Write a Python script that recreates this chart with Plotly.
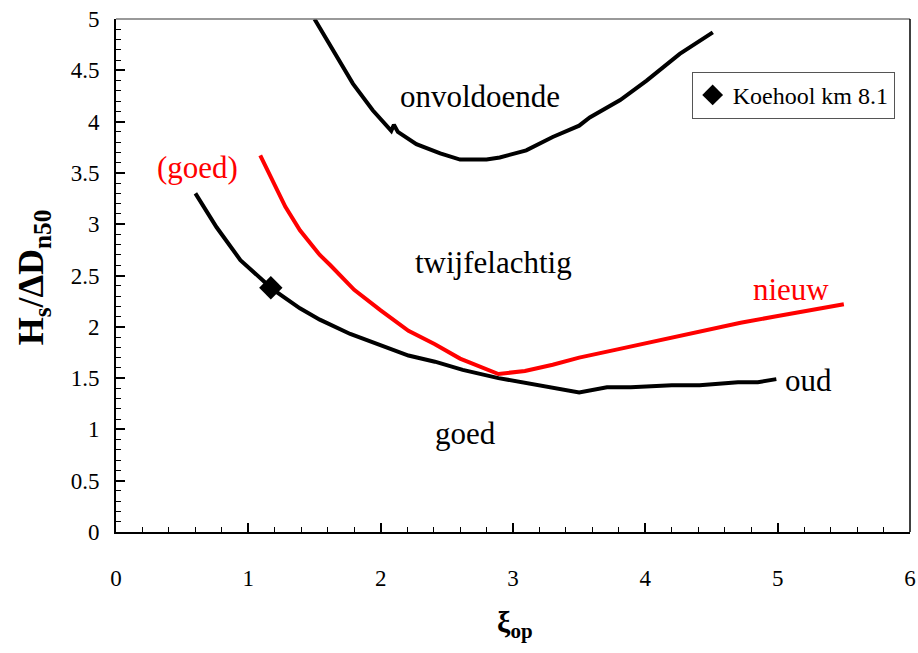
import plotly.graph_objects as go

# Data
oud_x = [0.60, 0.76, 0.94, 1.18, 1.39, 1.54, 1.77, 2.00, 2.21, 2.41, 2.62, 2.89, 3.14, 3.50, 3.71, 3.89, 4.20, 4.41, 4.70, 4.85, 4.99]
oud_y = [3.30, 2.97, 2.65, 2.37, 2.18, 2.07, 1.93, 1.82, 1.72, 1.66, 1.58, 1.50, 1.44, 1.36, 1.41, 1.41, 1.43, 1.43, 1.46, 1.46, 1.49]

nieuw_x = [1.09, 1.28, 1.39, 1.54, 1.62, 1.80, 2.00, 2.21, 2.41, 2.60, 2.89, 3.09, 3.30, 3.50, 3.79, 4.00, 4.28, 4.51, 4.72, 4.98, 5.32, 5.50]
nieuw_y = [3.67, 3.17, 2.94, 2.70, 2.60, 2.36, 2.16, 1.96, 1.83, 1.69, 1.54, 1.57, 1.63, 1.70, 1.78, 1.84, 1.92, 1.98, 2.04, 2.10, 2.18, 2.22]

onv_x = [1.50, 1.64, 1.79, 1.94, 2.08, 2.10, 2.13, 2.27, 2.45, 2.60, 2.80, 2.90, 3.10, 3.30, 3.50, 3.58, 3.81, 4.01, 4.26, 4.51]
onv_y = [5.00, 4.69, 4.37, 4.11, 3.91, 3.97, 3.90, 3.78, 3.69, 3.63, 3.63, 3.65, 3.72, 3.85, 3.96, 4.04, 4.21, 4.40, 4.66, 4.87]

koehool_x = [1.17]
koehool_y = [2.38]

labels = [
    ("onvoldoende", 2.75, 4.24, "black"),
    ("(goed)", 0.615, 3.55, "red"),
    ("twijfelachtig", 2.85, 2.63, "black"),
    ("nieuw", 5.10, 2.36, "red"),
    ("oud", 5.23, 1.48, "black"),
    ("goed", 2.64, 0.96, "black"),
]

FONT = "Liberation Serif"

fig = go.Figure()
fig.add_trace(go.Scatter(x=onv_x, y=onv_y, mode="lines", line=dict(color="black", width=4),
                         showlegend=False, hoverinfo="skip"))
fig.add_trace(go.Scatter(x=oud_x, y=oud_y, mode="lines", line=dict(color="black", width=4),
                         showlegend=False, hoverinfo="skip"))
fig.add_trace(go.Scatter(x=nieuw_x, y=nieuw_y, mode="lines", line=dict(color="red", width=4),
                         showlegend=False, hoverinfo="skip"))
fig.add_trace(go.Scatter(x=koehool_x, y=koehool_y, mode="markers", name="Koehool km 8.1",
                         marker=dict(symbol="diamond", size=18, color="black")))

for txt, x, y, c in labels:
    fig.add_annotation(x=x, y=y, text=txt, showarrow=False,
                       font=dict(family=FONT, size=31, color=c))

fig.add_annotation(xref="paper", yref="paper", x=-0.135, y=0.497,
                   text="<b>H<sub>s</sub>/ΔD<sub>n50</sub></b>", textangle=-90, showarrow=False,
                   font=dict(family=FONT, size=36, color="black"))
fig.add_annotation(xref="paper", yref="paper", x=0.503, y=-0.22,
                   text="<b>ξ<sub>op</sub></b>", showarrow=False,
                   font=dict(family=FONT, size=30, color="black"))

# border top/right
fig.add_shape(type="line", xref="paper", yref="paper", x0=0, x1=1, y0=1, y1=1,
              line=dict(color="#777777", width=1.5))
fig.add_shape(type="line", xref="paper", yref="paper", x0=1, x1=1, y0=0, y1=1,
              line=dict(color="black", width=1.5))

fig.update_xaxes(range=[0, 6], dtick=1, showgrid=False, zeroline=False, automargin=False,
                 showline=True, linecolor="black", linewidth=2,
                 ticks="inside", ticklen=9, tickwidth=1.5, tickcolor="black",
                 ticklabelstandoff=24,
                 minor=dict(dtick=0.2, ticks="inside", ticklen=5, tickwidth=1, tickcolor="black"),
                 tickfont=dict(family=FONT, size=23, color="black"))
fig.update_yaxes(range=[0, 5], dtick=0.5, showgrid=False, zeroline=False, automargin=False,
                 showline=True, linecolor="black", linewidth=2,
                 ticks="inside", ticklen=9, tickwidth=1.5, tickcolor="black",
                 ticklabelstandoff=10,
                 minor=dict(dtick=0.1, ticks="inside", ticklen=5, tickwidth=1, tickcolor="black"),
                 tickfont=dict(family=FONT, size=23, color="black"))

fig.update_layout(
    width=918, height=653,
    margin=dict(l=116, r=8, t=19, b=121, autoexpand=False),
    plot_bgcolor="white", paper_bgcolor="white",
    font=dict(family=FONT),
    legend=dict(x=0.725, y=0.897, xanchor="left", yanchor="top",
                bordercolor="#555555", borderwidth=1, bgcolor="white",
                font=dict(family=FONT, size=24, color="black"),
                itemwidth=30, tracegroupgap=0),
    showlegend=True,
)

fig.write_html("out.html")
